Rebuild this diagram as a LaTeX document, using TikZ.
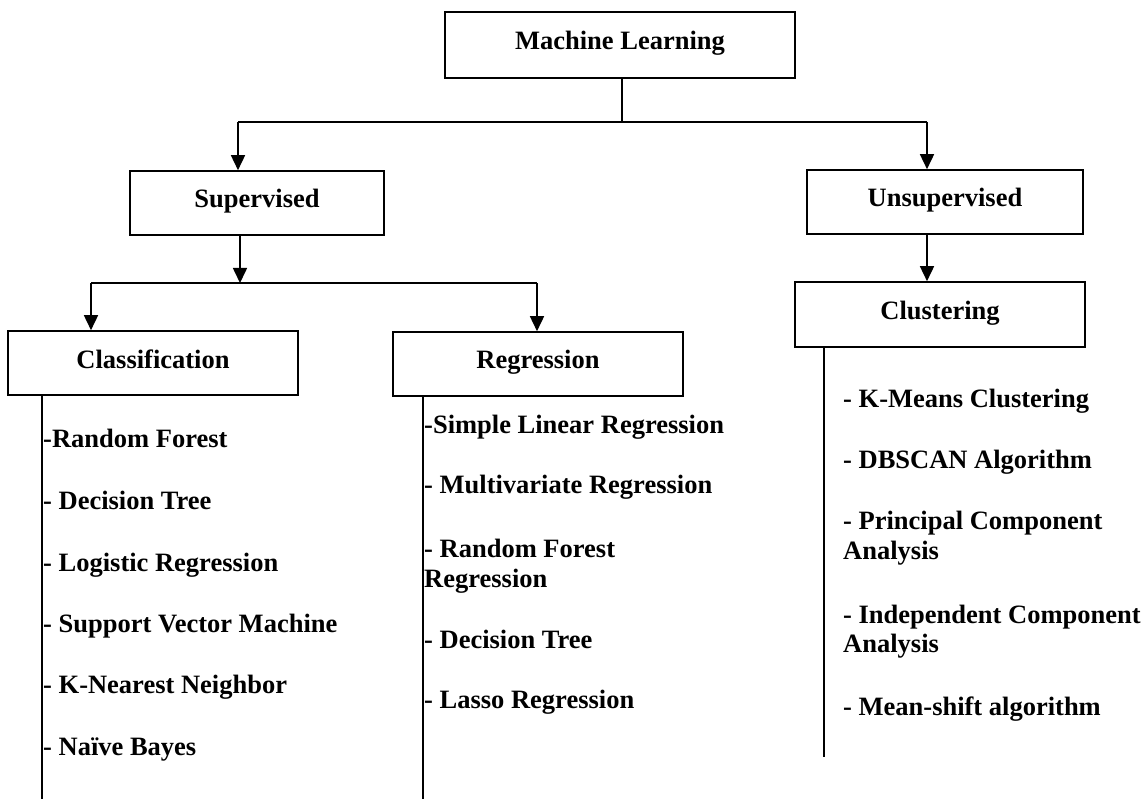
\documentclass[tikz,border=0pt]{standalone}
\usepackage{fontspec}
\setmainfont{Liberation Serif}
\usetikzlibrary{arrows.meta}
\begin{document}
\begin{tikzpicture}[x=1pt,y=-1pt,
  box/.style={draw, line width=1.6pt, inner sep=0pt, text height=18pt, text depth=8pt,
    font=\fontsize{26.5}{30}\selectfont\bfseries},
  item/.style={anchor=base west, inner sep=0pt, font=\fontsize{26.5}{30}\selectfont\bfseries},
  conn/.style={line width=1.6pt},
  arr/.style={line width=1.6pt, -{Triangle[length=15pt,width=14pt]}},
  thinconn/.style={line width=1.2pt}]
\useasboundingbox (0,0) rectangle (1148,799);

% boxes
\node[box, minimum width=350pt, minimum height=66pt] (ml) at (620,45) {Machine Learning};
\node[box, minimum width=254pt, minimum height=64pt] (sup) at (257,203) {Supervised};
\node[box, minimum width=276pt, minimum height=64pt] (uns) at (945,202) {Unsupervised};
\node[box, minimum width=290pt, minimum height=64pt] (cls) at (153,363) {Classification};
\node[box, minimum width=290pt, minimum height=64pt] (reg) at (538,364) {Regression};
\node[box, minimum width=290pt, minimum height=65pt] (clu) at (940,314.5) {Clustering};

% junctions
\coordinate (j1) at (622,122);
\coordinate (sl) at (238,122);
\coordinate (ur) at (927,122);
\coordinate (j2) at (240,283);
\coordinate (cl) at (91,283);
\coordinate (rg) at (537,283);
\coordinate (cbot) at (42,799);
\coordinate (rbot) at (423,799);
\coordinate (ubot) at (824,757);

% connectors
\draw[thinconn] (ml.south -| j1) -- (j1);
\draw[conn] (sl) -- (ur);
\draw[arr] (sl) -- (sl |- sup.north);
\draw[arr] (ur) -- (ur |- uns.north);
\draw[arr] (sup.south -| j2) -- (j2);
\draw[conn] (cl) -- (rg);
\draw[arr] (cl) -- (cl |- cls.north);
\draw[arr] (rg) -- (rg |- reg.north);
\draw[arr] (uns.south -| ur) -- (clu.north -| ur);
\draw[conn] (cls.south -| cbot) -- (cbot);
\draw[conn] (reg.south -| rbot) -- (rbot);
\draw[conn] (clu.south -| ubot) -- (ubot);

% classification list
\node[item] (c1) at (43,447) {-Random Forest};
\node[item] (c2) at (43,509) {- Decision Tree};
\node[item] (c3) at (43,571) {- Logistic Regression};
\node[item] (c4) at (43,632) {- Support Vector Machine};
\node[item] (c5) at (43,693) {- K-Nearest Neighbor};
\node[item] (c6) at (43,755) {- Naïve Bayes};

% regression list
\node[item] (r1) at (424,433) {-Simple Linear Regression};
\node[item] (r2) at (424,493) {- Multivariate Regression};
\node[item] (r3) at (424,557) {- Random Forest};
\node[item] (r3b) at (424,587) {Regression};
\node[item] (r4) at (424,648) {- Decision Tree};
\node[item] (r5) at (424,708) {- Lasso Regression};

% clustering list
\node[item] (u1) at (843,407) {- K-Means Clustering};
\node[item] (u2) at (843,468) {- DBSCAN Algorithm};
\node[item] (u3) at (843,529) {- Principal Component};
\node[item] (u3b) at (843,559) {Analysis};
\node[item] (u4) at (843,623) {- Independent Component};
\node[item] (u4b) at (843,652) {Analysis};
\node[item] (u5) at (843,715) {- Mean-shift algorithm};
\end{tikzpicture}
\end{document}
